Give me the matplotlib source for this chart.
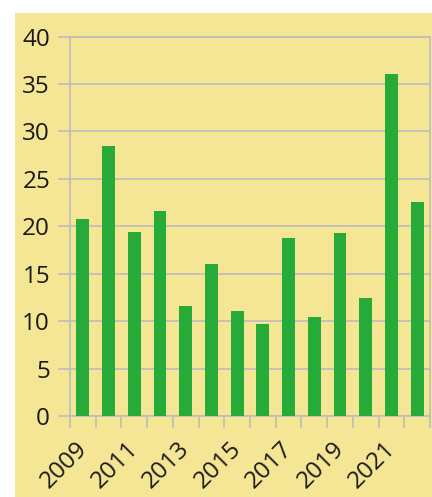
import numpy as np
import matplotlib
matplotlib.use("Agg")
from matplotlib import pyplot as plt
from matplotlib.patches import Rectangle
from matplotlib.transforms import ScaledTranslation

years = list(range(2009, 2023))
values = [20.8, 28.5, 19.4, 21.6, 11.6, 16.0, 11.1, 9.7, 18.8, 10.4, 19.3, 12.4, 36.1, 22.6]
yticks = [0, 5, 10, 15, 20, 25, 30, 35, 40]

BG = "#F5E696"
BAR = "#26AA38"
GRID = "#BDBDBD"
TEXT = "#1a1a1a"

plt.rcParams['font.family'] = ['Open Sans', 'DejaVu Sans']

fig = plt.figure(figsize=(4.32, 4.97), dpi=100)
fig.patch.set_facecolor("white")
fig.patches.append(Rectangle((15 / 432, 0), 1 - 15 / 432, 1 - 13 / 497,
                             transform=fig.transFigure, facecolor=BG,
                             edgecolor="none", zorder=-10))

ax = fig.add_axes([70 / 432, 1 - 416 / 497, 360 / 432, (416 - 36.5) / 497])
ax.set_facecolor(BG)

x = np.arange(len(years))
ax.bar(x, values, width=0.5, color=BAR, zorder=3)

ax.set_xlim(-0.5, len(years) - 0.5)
ax.set_ylim(0, 40)
ax.set_yticks(yticks)
ax.set_yticklabels([str(v) for v in yticks], fontsize=17.5, color=TEXT)
ax.yaxis.grid(True, color=GRID, linewidth=1.2, zorder=0)

# ticks at category boundaries, labels every other year
ax.set_xticks(np.arange(len(years) + 1) - 0.5)
ax.set_xticklabels([])
ax.set_xticks(x[::2], minor=True)
ax.set_xticklabels([str(y) for y in years[::2]], minor=True, fontsize=17.5,
                   color=TEXT, rotation=45, ha="right", rotation_mode="anchor")
ax.tick_params(axis="x", which="major", length=8.6, width=1.2, color=GRID)
ax.tick_params(axis="x", which="minor", length=0, pad=15)
ax.tick_params(axis="y", length=8.6, width=1.2, color=GRID, pad=5.8)

shift = ScaledTranslation(-8 / 100, 0, fig.dpi_scale_trans)
for lbl in ax.get_xticklabels(minor=True):
    lbl.set_transform(lbl.get_transform() + shift)

for side in ["left", "bottom", "right", "top"]:
    ax.spines[side].set_color(GRID)
    ax.spines[side].set_linewidth(1.2)

fig.savefig("out.png", dpi=100, facecolor=fig.get_facecolor())
